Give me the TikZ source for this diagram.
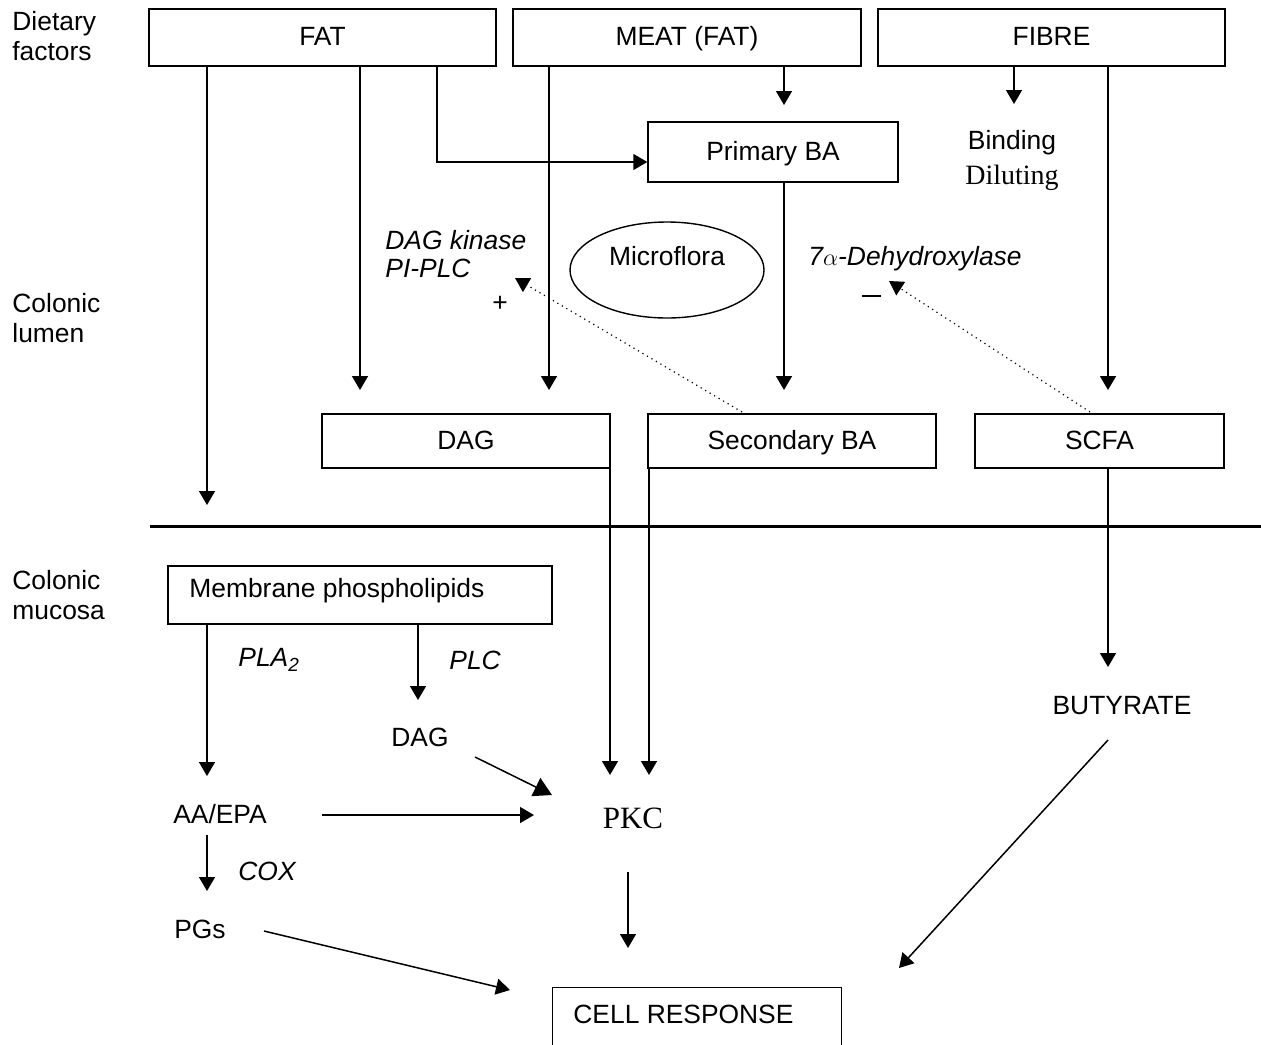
\documentclass[tikz,border=0pt]{standalone}
\usepackage{fontspec}
\setmainfont{Liberation Sans}
\newfontfamily\serifx{Liberation Serif}
\usetikzlibrary{arrows.meta,shapes.geometric}
\begin{document}
\begin{tikzpicture}[x=0.5pt,y=-0.5pt,
  font=\fontsize{13.2}{15}\selectfont,
  box/.style={draw, line width=0.7pt, inner sep=0pt, minimum height=28.5pt, text height=0.8em, text depth=0em},
  arr/.style={line width=0.75pt, -{Triangle[length=7pt,width=8pt]}},
  bigarr/.style={line width=0.75pt, -{Triangle[length=9pt,width=10pt]}},
  dotarr/.style={line width=0.6pt, dotted, -{Triangle[length=7pt,width=8pt]}},
  lbl/.style={inner sep=0pt, anchor=west},
  it/.style={lbl, font=\fontsize{13.2}{15}\selectfont\itshape}]
\useasboundingbox (0,0) rectangle (1261,1044);

% side labels
\node[lbl, align=left] (dietary) at (12,36) {Dietary\\factors};
\node[lbl, align=left] (lumen) at (12,318) {Colonic\\lumen};
\node[lbl, align=left] (mucosa) at (12,595) {Colonic\\mucosa};

% top boxes
\node[box, minimum width=173.5pt] (fat) at (322.5,37.5) {FAT};
\node[box, minimum width=174pt] (meat) at (687,37.5) {MEAT (FAT)};
\node[box, minimum width=173.5pt] (fibre) at (1051.5,37.5) {FIBRE};

\node[box, minimum width=125pt, minimum height=30pt] (pba) at (773,152) {Primary BA};
\node[inner sep=0pt] (binding) at (1012,143) {Binding};
\node[inner sep=0pt, font=\fontsize{14}{16}\selectfont\serifx] (diluting) at (1012,178) {Diluting};

\node[draw, ellipse, line width=0.7pt, minimum width=97pt, minimum height=48pt, inner sep=0pt] (micro) at (667,270) {};
\node[inner sep=0pt] (microtxt) at (667,256) {Microflora};

\node[it] (dagk) at (385,240) {DAG kinase};
\node[it] (piplc) at (385,268) {PI-PLC};
\node[inner sep=0pt] (plus) at (500,304) {+};
\node[it] (dehyd) at (808,259) {7$\alpha$-Dehydroxylase};
\draw[line width=0.75pt] (862,296) -- (881,296) coordinate (minus);

% middle boxes
\node[box, minimum width=144pt, minimum height=27pt] (dag) at (466,441) {DAG};
\node[box, minimum width=144pt, minimum height=27pt] (sba) at (792,441) {Secondary BA};
\node[box, minimum width=124.5pt, minimum height=27pt] (scfa) at (1099.5,441) {SCFA};

% boundary
\coordinate (bl) at (150,526);
\coordinate (br) at (1261,526);
\draw[line width=1.5pt] (bl) -- (br);

% coordinates
\coordinate (e1) at (207,505);
\coordinate (e2) at (360,390);
\coordinate (k1) at (437,162);
\coordinate (e4) at (549,390);
\coordinate (e5) at (784,105);
\coordinate (e6) at (1014,104);
\coordinate (e7) at (1108,390);
\coordinate (e8) at (784,390);

\draw[arr] (fat.south -| e1) -- (e1);
\draw[arr] (fat.south -| e2) -- (e2);
\draw[arr] (fat.south -| k1) -- (k1) -- (k1 -| pba.west);
\draw[arr] (meat.south -| e4) -- (e4);
\draw[arr] (meat.south -| e5) -- (e5);
\draw[arr] (fibre.south -| e6) -- (e6);
\draw[arr] (fibre.south -| e7) -- (e7);
\draw[arr] (pba.south -| e8) -- (e8);

\coordinate (s1) at (742,412);
\coordinate (t1) at (515,278);
\draw[dotarr] (s1) -- (t1);
\coordinate (s2) at (1090,412);
\coordinate (t2) at (889,281);
\draw[dotarr] (s2) -- (t2);

% mucosa
\node[draw, line width=0.7pt, minimum width=192pt, minimum height=29pt, inner sep=0pt] (mem) at (360,595) {};
\node[lbl] (memtxt) at (189,591) {Membrane phospholipids};

\node[inner sep=0pt] (butyrate) at (1122,706) {BUTYRATE};
\node[inner sep=0pt] (dag2) at (420,737) {DAG};
\node[inner sep=0pt] (aaepa) at (220,814) {AA/EPA};
\node[inner sep=0pt, font=\fontsize{15.5}{17}\selectfont\serifx] (pkc) at (633,818) {PKC};
\node[inner sep=0pt] (pgs) at (200,929) {PGs};
\node[it] (pla) at (238,660) {PLA\textsubscript{\fontsize{9.5}{10}\selectfont 2}};
\node[it] (plc) at (449,660) {PLC};
\node[it] (cox) at (238,871) {COX};

\node[minimum width=144pt, minimum height=50pt, inner sep=0pt] (cell) at (697,1038) {};
\draw[line width=0.7pt] (cell.south west) |- (cell.north east) -- (cell.south east);
\node[lbl] (celltxt) at (573,1014) {CELL RESPONSE};

\coordinate (f1) at (610,775);
\coordinate (f2) at (649,775);
\coordinate (f3) at (1108,667);
\draw[arr] (dag.south -| f1) -- (f1);
\draw[arr] (sba.south -| f2) -- (f2);
\draw[arr] (scfa.south -| f3) -- (f3);

\coordinate (g1) at (207,776);
\coordinate (g2) at (418,700);
\draw[arr] (mem.south -| g1) -- (g1);
\draw[arr] (mem.south -| g2) -- (g2);

\coordinate (h1) at (475,757);
\coordinate (h2) at (552,795);
\draw[bigarr] (h1) -- (h2);
\coordinate (h3) at (322,815);
\coordinate (h4) at (534,815);
\draw[arr] (h3) -- (h4);
\coordinate (h5) at (207,835);
\coordinate (h6) at (207,891);
\draw[arr] (h5) -- (h6);
\coordinate (h7) at (264,931);
\coordinate (h8) at (510,990);
\draw[arr] (h7) -- (h8);
\coordinate (h9) at (628,872);
\coordinate (h10) at (628,948);
\draw[arr] (h9) -- (h10);
\coordinate (h11) at (1108,740);
\coordinate (h12) at (899,968);
\draw[arr] (h11) -- (h12);
\end{tikzpicture}
\end{document}
